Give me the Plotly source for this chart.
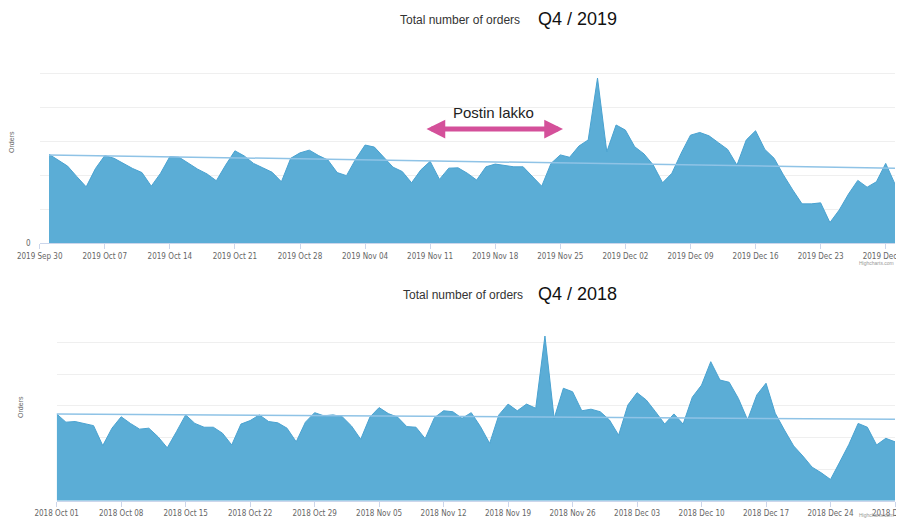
import plotly.graph_objects as go
import pandas as pd

# ---- data ----
dates_2019 = pd.date_range("2019-10-01", "2019-12-31", freq="D")
orders_2019 = [262, 245, 227, 196, 166, 220, 258, 250, 235, 220, 208, 168, 206, 255, 253, 235,
               218, 204, 184, 230, 272, 257, 235, 222, 209, 181, 250, 266, 274, 258, 245, 208,
               199, 248, 289, 283, 252, 224, 211, 178, 216, 241, 188, 221, 222, 206, 186, 225,
               233, 229, 225, 225, 196, 168, 235, 260, 253, 286, 304, 486, 269, 348, 333, 284,
               263, 230, 178, 206, 265, 318, 326, 316, 296, 276, 230, 304, 331, 276, 250, 201,
               157, 116, 116, 119, 61, 98, 145, 185, 165, 181, 235, 174]
trend_2019_dates = ["2019-10-01", "2019-12-31"]
trend_2019 = [260, 221]

dates_2018 = pd.date_range("2018-10-01", "2018-12-31", freq="D")
orders_2018 = [274, 248, 250, 244, 237, 174, 229, 265, 244, 226, 229, 202, 167, 218, 271, 244,
               232, 232, 213, 176, 242, 253, 271, 250, 246, 229, 186, 248, 278, 268, 271, 265,
               236, 194, 264, 294, 275, 264, 234, 232, 196, 262, 284, 281, 260, 278, 234, 181,
               271, 305, 284, 305, 292, 520, 260, 355, 344, 284, 289, 281, 255, 207, 302, 341,
               318, 281, 242, 274, 242, 327, 365, 439, 381, 374, 323, 255, 334, 371, 276, 223,
               173, 141, 106, 88, 67, 122, 178, 244, 232, 176, 197, 186]
trend_2018_dates = ["2018-10-01", "2018-12-31"]
trend_2018 = [274, 257]

ticks_2019 = pd.date_range("2019-09-30", "2019-12-30", freq="7D")
ticks_2018 = pd.date_range("2018-10-01", "2018-12-31", freq="7D")
y_ticks = [0, 100, 200, 300, 400, 500, 600]
y_ticktext_top = ["0", "", "", "", "", "", ""]
y_ticktext_bottom = ["", "", "", "", "", "", ""]

# the page body has an 8px default margin, so the figure is drawn 8px in from the corner
OFF = 8
W, H = 904 - OFF, 518 - OFF
RIGHT = 895  # last visible pixel column for the plot area
def fx(px):
    return (px - OFF) / W
def fy(py):
    return 1 - (py - OFF) / H

FILL = "#5badd6"
LINE = "#4aa2d0"
TREND = "#8fc3e6"
TICKFONT = dict(family="Liberation Sans Narrow, DejaVu Sans Condensed, Arial, sans-serif", size=8, color="#666666")

fig = go.Figure()
fig.add_trace(go.Scatter(x=dates_2019, y=orders_2019, mode="lines", fill="tozeroy",
                         fillcolor=FILL, line=dict(color=LINE, width=1), xaxis="x", yaxis="y",
                         showlegend=False, hoverinfo="x+y"))
fig.add_trace(go.Scatter(x=trend_2019_dates, y=trend_2019, mode="lines",
                         line=dict(color=TREND, width=1.5), xaxis="x", yaxis="y", showlegend=False))
fig.add_trace(go.Scatter(x=dates_2018, y=orders_2018, mode="lines", fill="tozeroy",
                         fillcolor=FILL, line=dict(color=LINE, width=1), xaxis="x2", yaxis="y2",
                         showlegend=False, hoverinfo="x+y"))
fig.add_trace(go.Scatter(x=trend_2018_dates, y=trend_2018, mode="lines",
                         line=dict(color=TREND, width=1.5), xaxis="x2", yaxis="y2", showlegend=False))

xcommon = dict(type="date", tickformat="%Y %b %d", ticks="outside", ticklen=5, tickcolor="#ccd6eb",
               showline=True, linecolor="#ccd6eb", linewidth=1, showgrid=False, zeroline=False,
               tickfont=TICKFONT, ticklabeloverflow="allow", fixedrange=True)
ycommon = dict(range=[0, 600], tickvals=y_ticks, showgrid=True, gridcolor="#efefef", gridwidth=1,
               zeroline=False, showline=False, ticks="", tickfont=TICKFONT, fixedrange=True)

fig.update_layout(
    width=W, height=H, margin=dict(l=0, r=0, t=0, b=0, autoexpand=False),
    paper_bgcolor="white", plot_bgcolor="white",
    xaxis=dict(xcommon, domain=[fx(39.7), fx(RIGHT)], anchor="y",
               range=["2019-09-30", "2019-12-31"], tickvals=list(ticks_2019)),
    yaxis=dict(ycommon, domain=[fy(243.3), fy(39.3)], anchor="x", ticktext=y_ticktext_top,
               ticklabelstandoff=8),
    xaxis2=dict(xcommon, domain=[fx(56.7), fx(RIGHT)], anchor="y2",
                range=["2018-10-01", "2018-12-31"], tickvals=list(ticks_2018)),
    yaxis2=dict(ycommon, domain=[fy(500.7), fy(310.7)], anchor="x2", ticktext=y_ticktext_bottom),
)

TITLEFONT = dict(family="Liberation Sans, Arial, sans-serif", size=12, color="#333333")
BIGFONT = dict(family="Liberation Sans, Arial, sans-serif", size=18, color="#111111")
ann = [
    dict(text="Total number of orders", x=fx(460), y=fy(20), font=TITLEFONT),
    dict(text="Q4 / 2019", x=fx(577), y=fy(19), font=BIGFONT),
    dict(text="Total number of orders", x=fx(463), y=fy(295), font=TITLEFONT),
    dict(text="Q4 / 2018", x=fx(577), y=fy(294), font=BIGFONT),
    dict(text="Postin lakko", x=fx(493), y=fy(113),
         font=dict(family="Liberation Sans, Arial, sans-serif", size=15, color="#222222")),
    dict(text="Orders", x=fx(12), y=fy(142), textangle=-90,
         font=dict(family="Liberation Sans, Arial, sans-serif", size=7, color="#666666")),
    dict(text="Orders", x=fx(20), y=fy(407), textangle=-90,
         font=dict(family="Liberation Sans, Arial, sans-serif", size=7, color="#666666")),
    dict(text="Highcharts.com", x=fx(896), y=fy(263), xanchor="right",
         font=dict(family="Liberation Sans, Arial, sans-serif", size=5, color="#999999")),
    dict(text="Highcharts.com", x=fx(896), y=fy(515), xanchor="right",
         font=dict(family="Liberation Sans, Arial, sans-serif", size=5, color="#999999")),
]
for a in ann:
    a.setdefault("xanchor", "center")
    a.update(xref="paper", yref="paper", showarrow=False, yanchor="middle")
    fig.add_annotation(**a)

# double-headed arrow for the postal strike period
fig.add_annotation(x=fx(563), y=fy(129), xref="paper", yref="paper", text="",
                   showarrow=True, ax=-138, ay=0, arrowside="end+start", arrowhead=2,
                   arrowsize=0.75, arrowwidth=5, arrowcolor="#d4509a")

fig.write_html("out.html")
